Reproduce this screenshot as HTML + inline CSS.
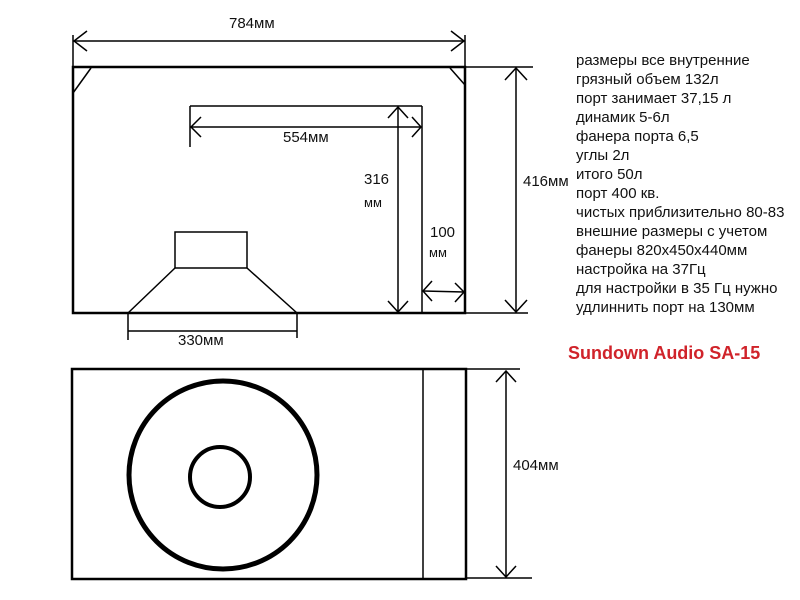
<!DOCTYPE html>
<html><head><meta charset="utf-8"><style>
body{margin:0;background:#fff;width:800px;height:600px;overflow:hidden;position:relative;font-family:"Liberation Sans",sans-serif}
.t{position:absolute;font-size:15px;color:#111;white-space:nowrap}
</style></head><body>
<svg width="800" height="600" style="position:absolute;left:0;top:0" fill="none" stroke="#000">
<g stroke-width="1.5">
<line x1="73" y1="35" x2="73" y2="98"/><line x1="465" y1="35" x2="465" y2="92"/>
<line x1="73" y1="41" x2="465" y2="41"/>
<polyline points="87,31 74,41 87,51"/><polyline points="451,31 464,41 451,51"/>
<line x1="190" y1="106" x2="422" y2="106"/><line x1="422" y1="106" x2="422" y2="313"/>
<line x1="190" y1="106" x2="190" y2="147"/>
<line x1="190" y1="127" x2="421" y2="127"/>
<polyline points="201,117 191,127 201,137"/><polyline points="412,117 421,127 412,137"/>
<line x1="398" y1="107" x2="398" y2="312"/>
<polyline points="388,118 398,107 408,118"/><polyline points="388,301 398,312 408,301"/>
<line x1="423" y1="291" x2="464" y2="292"/>
<polyline points="432,281 423,291 432,301"/><polyline points="455,283 464,292 455,302"/>
<line x1="465" y1="67" x2="533" y2="67"/><line x1="433" y1="313" x2="528" y2="313"/>
<line x1="516" y1="68" x2="516" y2="312"/>
<polyline points="505,80 516,68 527,80"/><polyline points="505,300 516,312 527,300"/>
<line x1="128" y1="313" x2="128" y2="340"/><line x1="297" y1="313" x2="297" y2="338"/>
<line x1="128" y1="331" x2="297" y2="331"/>
<line x1="175" y1="268" x2="128" y2="313"/><line x1="247" y1="268" x2="297" y2="313"/>
<rect x="175" y="232" width="72" height="36"/>
<line x1="73" y1="93" x2="91" y2="68"/><line x1="450" y1="68" x2="465" y2="85"/>
<line x1="423" y1="370" x2="423" y2="578"/>
<line x1="466" y1="369" x2="520" y2="369"/><line x1="466" y1="578" x2="532" y2="578"/>
<line x1="506" y1="371" x2="506" y2="577"/>
<polyline points="496,382 506,371 516,382"/><polyline points="496,566 506,577 516,566"/>
</g>
<g stroke-width="2.5">
<rect x="73" y="67" width="392" height="246"/>
<rect x="72" y="369" width="394" height="210"/>
</g>
<circle cx="223" cy="475" r="94" stroke-width="5"/>
<circle cx="220" cy="477" r="30" stroke-width="4"/>
</svg>
<div class="t" style="left:229px;top:15px">784мм</div>
<div class="t" style="left:283px;top:129px">554мм</div>
<div class="t" style="left:364px;top:171px">316</div>
<div class="t" style="left:364px;top:195px;font-size:13px">мм</div>
<div class="t" style="left:430px;top:224px">100</div>
<div class="t" style="left:429px;top:245px;font-size:13px">мм</div>
<div class="t" style="left:523px;top:173px">416мм</div>
<div class="t" style="left:178px;top:332px">330мм</div>
<div class="t" style="left:513px;top:457px">404мм</div>
<div class="t" style="left:576px;top:51px;line-height:19px">размеры все внутренние<br>грязный объем 132л<br>порт занимает 37,15 л<br>динамик 5-6л<br>фанера порта 6,5<br>углы 2л<br>итого 50л<br>порт 400 кв.<br>чистых приблизительно 80-83<br>внешние размеры с учетом<br>фанеры 820х450х440мм<br>настройка на 37Гц<br>для настройки в 35 Гц нужно<br>удлиннить порт на 130мм</div>
<div class="t" style="left:568px;top:343px;font-size:18px;font-weight:bold;color:#d0232a">Sundown Audio SA-15</div>
</body></html>
